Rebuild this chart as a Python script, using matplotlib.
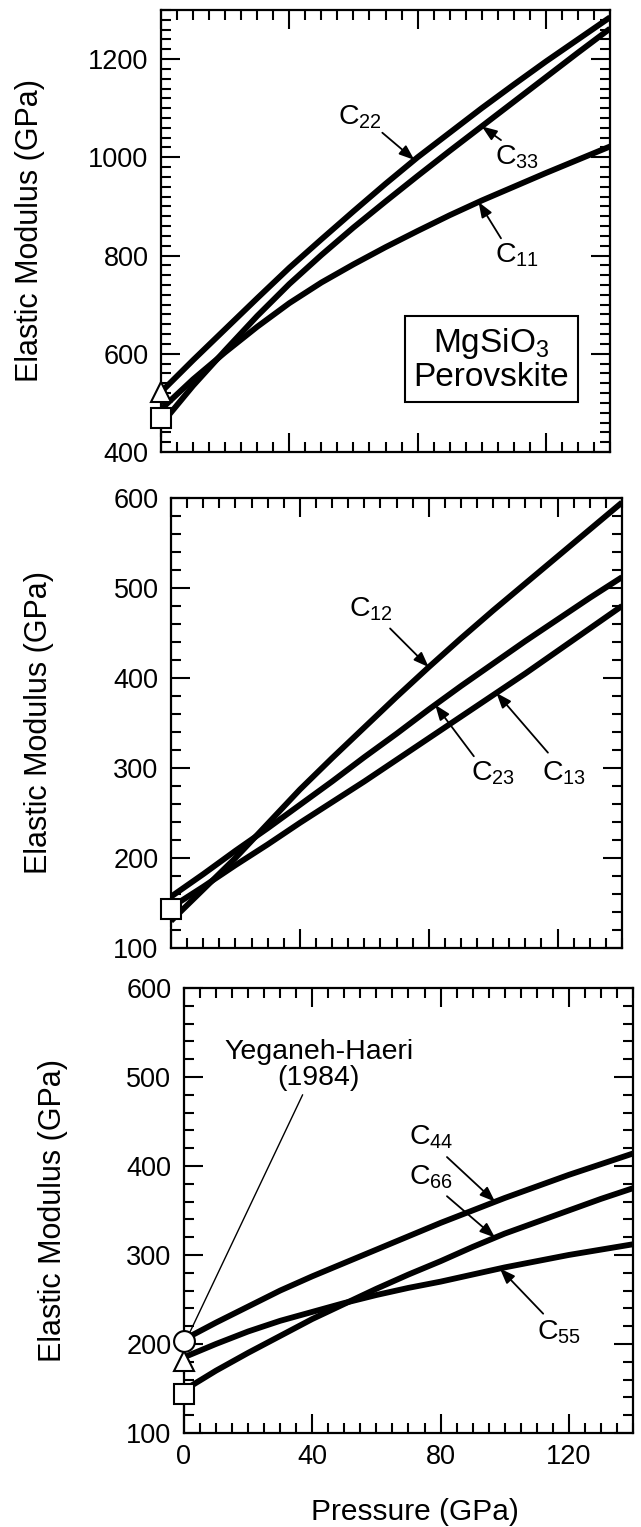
# elastic moduli of MgSiO3 perovskite versus pressure, three stacked panels

import numpy as np
import matplotlib

matplotlib.use('Agg')
import matplotlib.pyplot as plt
from matplotlib.ticker import MultipleLocator

plt.rcParams['font.family'] = ['Liberation Sans', 'DejaVu Sans']
plt.rcParams['mathtext.fontset'] = 'custom'
plt.rcParams['mathtext.rm'] = 'Liberation Sans'

# pressure grid (GPa)
pressure = [0, 10, 20, 30, 40, 50, 60, 70, 80, 90, 100, 110, 120, 130, 140]

# longitudinal moduli (GPa)
c11 = [487, 548, 603, 655, 703, 745, 782, 817, 850, 882, 912, 940, 968, 995, 1022]
c22 = [522, 587, 650, 713, 775, 833, 890, 946, 1000, 1050, 1100, 1148, 1195, 1240, 1285]
c33 = [456, 535, 607, 677, 742, 801, 857, 910, 962, 1013, 1063, 1113, 1163, 1213, 1262]

# off-diagonal moduli (GPa)
c12 = [130, 165, 200, 238, 276, 311, 345, 379, 412, 444, 475, 505, 535, 565, 595]
c13 = [145, 168, 192, 215, 239, 262, 285, 309, 333, 357, 381, 405, 430, 455, 480]
c23 = [157, 182, 208, 233, 259, 285, 312, 338, 365, 391, 416, 441, 465, 489, 512]

# shear moduli (GPa)
c44 = [205, 224, 242, 260, 276, 291, 306, 321, 336, 350, 364, 377, 390, 402, 414]
c55 = [185, 200, 214, 226, 236, 246, 255, 263, 270, 278, 286, 293, 300, 306, 312]
c66 = [148, 170, 190, 209, 228, 245, 262, 278, 293, 309, 324, 337, 350, 363, 375]

# zero pressure measurements (Yeganeh-Haeri 1984): value, lower error
exp_top = {'tri': (522, 0), 'sq': (470, 40)}
exp_mid = {'sq': (143, 20)}
exp_bot = {'circ': (203, 0), 'tri': (181, 15), 'sq': (144, 20)}

LW = 4.2
FS_TICK = 19.5
FS_YLABEL = 22
FS_XLABEL = 21.5
FS_NOTE = 20.5


def style_axes(ax, ylo, yhi, ystep, show_xlabels):
    ax.set_xlim(0, 140)
    ax.set_ylim(ylo, yhi)
    ax.xaxis.set_major_locator(MultipleLocator(40))
    ax.xaxis.set_minor_locator(MultipleLocator(5))
    ax.yaxis.set_major_locator(MultipleLocator(ystep))
    ax.yaxis.set_minor_locator(MultipleLocator(20))
    ax.tick_params(which='both', direction='in', top=True, right=True,
                   width=1.5, labelsize=FS_TICK)
    ax.tick_params(which='major', length=14)
    ax.tick_params(which='minor', length=7)
    ax.tick_params(axis='y', pad=9)
    ax.tick_params(axis='x', pad=8, labelbottom=show_xlabels)
    for s in ax.spines.values():
        s.set_linewidth(1.6)
    ax.set_ylabel('Elastic Modulus (GPa)', fontsize=FS_YLABEL)
    ax.yaxis.label.set_va('center')
    ax.yaxis.set_label_coords(-0.292, 0.5)


def curve(ax, vals):
    ax.plot(pressure, vals, color='black', lw=LW, solid_capstyle='butt',
            solid_joinstyle='round', zorder=3)


def marker(ax, val, err, kind):
    ax.errorbar([0], [val], yerr=[[err], [0]], fmt=kind, ms=15, mfc='white',
                mec='black', mew=1.5, ecolor='black', elinewidth=1.5, capsize=0,
                clip_on=False, zorder=6)


def label(ax, name, txt_xy, start_xy, tip_p, vals):
    tip = (tip_p, np.interp(tip_p, pressure, vals))
    ax.text(txt_xy[0], txt_xy[1], name, fontsize=FS_NOTE, ha='center', va='center')
    ax.annotate('', xy=tip, xytext=start_xy,
                arrowprops=dict(arrowstyle='-|>,head_length=0.45,head_width=0.17',
                                color='black', lw=1.3, shrinkA=0, shrinkB=0),
                fontsize=FS_NOTE, zorder=5)


fig = plt.figure(figsize=(6.41, 15.27), dpi=100)

ax1 = fig.add_axes([0.2512, 0.7040, 0.7005, 0.2895])
ax2 = fig.add_axes([0.2668, 0.3792, 0.7036, 0.2947])
ax3 = fig.add_axes([0.2870, 0.0616, 0.7005, 0.2914])

# top panel: C11, C22, C33
style_axes(ax1, 400, 1300, 200, False)
for v in (c11, c22, c33):
    curve(ax1, v)
marker(ax1, exp_top['tri'][0], exp_top['tri'][1], '^')
marker(ax1, exp_top['sq'][0], exp_top['sq'][1], 's')
label(ax1, r'$\mathregular{C_{22}}$', (62, 1082), (69, 1050), 79, c22)
label(ax1, r'$\mathregular{C_{33}}$', (111, 1000), (106, 1035), 100, c33)
label(ax1, r'$\mathregular{C_{11}}$', (111, 800), (106, 835), 99, c11)
ax1.text(103, 588, 'MgSiO$_3$\nPerovskite', fontsize=24, ha='center', va='center',
         multialignment='center', linespacing=1.05,
         bbox=dict(boxstyle='square,pad=0.25', fc='white', ec='black', lw=1.5))

# middle panel: C12, C13, C23
style_axes(ax2, 100, 600, 100, False)
for v in (c12, c13, c23):
    curve(ax2, v)
marker(ax2, exp_mid['sq'][0], exp_mid['sq'][1], 's')
label(ax2, r'$\mathregular{C_{12}}$', (62, 476), (68, 455), 80, c12)
label(ax2, r'$\mathregular{C_{23}}$', (100, 294), (94, 313), 82, c23)
label(ax2, r'$\mathregular{C_{13}}$', (122, 294), (117, 317), 101, c13)

# bottom panel: C44, C55, C66
style_axes(ax3, 100, 600, 100, True)
for v in (c44, c55, c66):
    curve(ax3, v)
marker(ax3, exp_bot['sq'][0], exp_bot['sq'][1], 's')
marker(ax3, exp_bot['tri'][0], exp_bot['tri'][1], '^')
marker(ax3, exp_bot['circ'][0], exp_bot['circ'][1], 'o')
label(ax3, r'$\mathregular{C_{44}}$', (77, 432), (82, 410), 97, c44)
label(ax3, r'$\mathregular{C_{66}}$', (77, 387), (82, 366), 97, c66)
label(ax3, r'$\mathregular{C_{55}}$', (117, 213), (112, 234), 98.5, c55)
ax3.text(42, 513, 'Yeganeh-Haeri\n(1984)', fontsize=FS_NOTE, ha='center', va='center',
         linespacing=1.0)
ax3.annotate('', xy=(0.5, exp_bot['circ'][0]), xytext=(37, 480),
             arrowprops=dict(arrowstyle='-', color='black', lw=1.0,
                             shrinkA=0, shrinkB=0))
ax3.set_xlabel('Pressure (GPa)', fontsize=FS_XLABEL)
ax3.xaxis.set_label_coords(0.514, -0.178)
ax3.xaxis.label.set_va('center')

fig.savefig('out.png', dpi=100, facecolor='white')
